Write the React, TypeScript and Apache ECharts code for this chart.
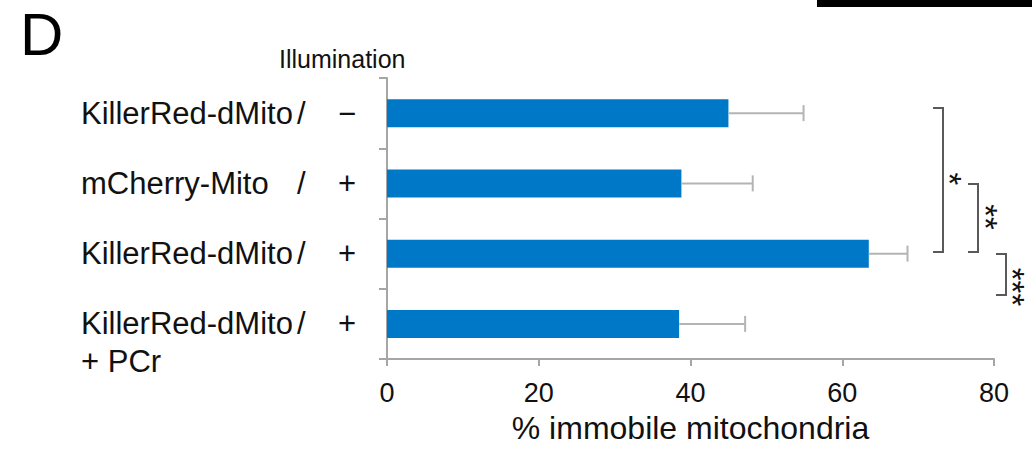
import React, { useEffect, useRef } from "react";
import * as echarts from "echarts";

const categories = ["KillerRed-dMito", "mCherry-Mito", "KillerRed-dMito", "KillerRed-dMito"];
const illumination = ["−", "+", "+", "+"];
const treatment = ["", "", "", "+ PCr"];
const means = [45.0, 38.8, 63.5, 38.5];
const errors = [9.9, 9.4, 5.1, 8.7];
const xMin = 0;
const xMax = 80;
const xInterval = 20;
const axisTitle = "% immobile mitochondria";
const illuminationTitle = "Illumination";
const panelLetter = "D";
const significance = ["*", "**", "***"];

const FONT = "'Liberation Sans', Arial, Helvetica, sans-serif";
const AXIS_GRAY = "#a6a6a6";

export default function App() {
  const ref = useRef<HTMLDivElement>(null);

  useEffect(() => {
    if (!ref.current) return;
    const chart = echarts.init(ref.current, null, { renderer: "svg" });

    const catKeys = categories.map((c, i) => `${i}:${c}`);

    const labelRich = {
      name: { width: 216, align: "left", fontSize: 31, lineHeight: 38, color: "#111", fontFamily: FONT },
      slash: { width: 12, align: "left", fontSize: 31, lineHeight: 38, color: "#111", fontFamily: FONT },
      gap: { width: 26, fontSize: 31, lineHeight: 38, fontFamily: FONT },
      sign: { width: 24, align: "center", fontSize: 31, lineHeight: 38, color: "#111", fontFamily: FONT },
      ext: { width: 278, align: "left", fontSize: 31, lineHeight: 38, color: "#111", fontFamily: FONT },
      blank: { width: 278, fontSize: 31, lineHeight: 38, fontFamily: FONT },
    };

    const starStyle = (t: string) => ({
      text: t,
      fontSize: 33,
      fontFamily: FONT,
      fill: "#111",
      align: "center",
      verticalAlign: "middle",
    });

    const bracketStyle = { stroke: "#595959", lineWidth: 2, fill: "none" };

    const option: any = {
      animation: false,
      textStyle: { fontFamily: FONT },
      grid: { left: 387, right: 38, top: 78, bottom: 92, containLabel: false },
      xAxis: {
        type: "value",
        min: xMin,
        max: xMax,
        interval: xInterval,
        axisLine: { show: true, lineStyle: { color: AXIS_GRAY, width: 2 } },
        axisTick: { show: true, length: 7, lineStyle: { color: AXIS_GRAY, width: 2 } },
        splitLine: { show: false },
        axisLabel: { fontSize: 27, color: "#111", margin: 20, fontFamily: FONT },
        name: axisTitle,
        nameLocation: "middle",
        nameGap: 53,
        nameTextStyle: { fontSize: 32, color: "#111", fontFamily: FONT },
      },
      yAxis: {
        type: "category",
        inverse: true,
        data: catKeys,
        axisLine: { show: true, lineStyle: { color: AXIS_GRAY, width: 2 } },
        axisTick: { show: true, length: 8, lineStyle: { color: AXIS_GRAY, width: 2 } },
        splitLine: { show: false },
        axisLabel: {
          interval: 0,
          hideOverlap: false,
          margin: 28,
          lineHeight: 38,
          fontSize: 31,
          color: "#111",
          formatter: (_v: string, idx: number) => {
            const name = categories[idx];
            const line1 = `{name|${name}}{slash|/}{gap| }{sign|${illumination[idx]}}`;
            if (treatment[idx]) {
              return `{blank| }\n${line1}\n{ext|${treatment[idx]}}`;
            }
            return line1;
          },
          rich: labelRich,
        },
      },
      series: [
        {
          type: "bar",
          data: means,
          barWidth: 28,
          itemStyle: { color: "#0078c8" },
          z: 2,
        },
        {
          type: "custom",
          data: means.map((m, i) => [m, m + errors[i], i]),
          encode: { x: [0, 1], y: 2 },
          z: 3,
          renderItem: (_params: any, api: any) => {
            const idx = api.value(2);
            const start = api.coord([api.value(0), idx]);
            const end = api.coord([api.value(1), idx]);
            const cap = 8;
            const style = { stroke: "#b4b4b4", lineWidth: 2 };
            return {
              type: "group",
              children: [
                { type: "line", shape: { x1: start[0], y1: start[1], x2: end[0], y2: end[1] }, style },
                { type: "line", shape: { x1: end[0], y1: end[1] - cap, x2: end[0], y2: end[1] + cap }, style },
              ],
            };
          },
        },
      ],
      graphic: [
        {
          type: "text",
          x: 20,
          y: 34,
          style: { text: panelLetter, fontSize: 60, fontFamily: FONT, fill: "#000", align: "left", verticalAlign: "middle" },
        },
        {
          type: "text",
          x: 279,
          y: 59,
          style: { text: illuminationTitle, fontSize: 25, fontFamily: FONT, fill: "#111", align: "left", verticalAlign: "middle" },
        },
        {
          type: "rect",
          shape: { x: 817, y: 0, width: 215, height: 7 },
          style: { fill: "#000" },
        },
        {
          type: "polyline",
          shape: { points: [[933, 108], [943, 108], [943, 252], [933, 252]] },
          style: bracketStyle,
        },
        {
          type: "polyline",
          shape: { points: [[968, 184], [978, 184], [978, 252], [968, 252]] },
          style: bracketStyle,
        },
        {
          type: "polyline",
          shape: { points: [[996, 254], [1006, 254], [1006, 295], [996, 295]] },
          style: bracketStyle,
        },
        { type: "text", x: 949, y: 179, rotation: -Math.PI / 2, style: starStyle(significance[0]) },
        { type: "text", x: 985, y: 217, rotation: -Math.PI / 2, style: starStyle(significance[1]) },
        { type: "text", x: 1012, y: 287, rotation: -Math.PI / 2, style: starStyle(significance[2]) },
      ],
    };

    chart.setOption(option);
    return () => chart.dispose();
  }, []);

  return (
    <div
      ref={ref}
      style={{ position: "fixed", left: 0, top: 0, width: 1032, height: 451, background: "#fff" }}
    />
  );
}
